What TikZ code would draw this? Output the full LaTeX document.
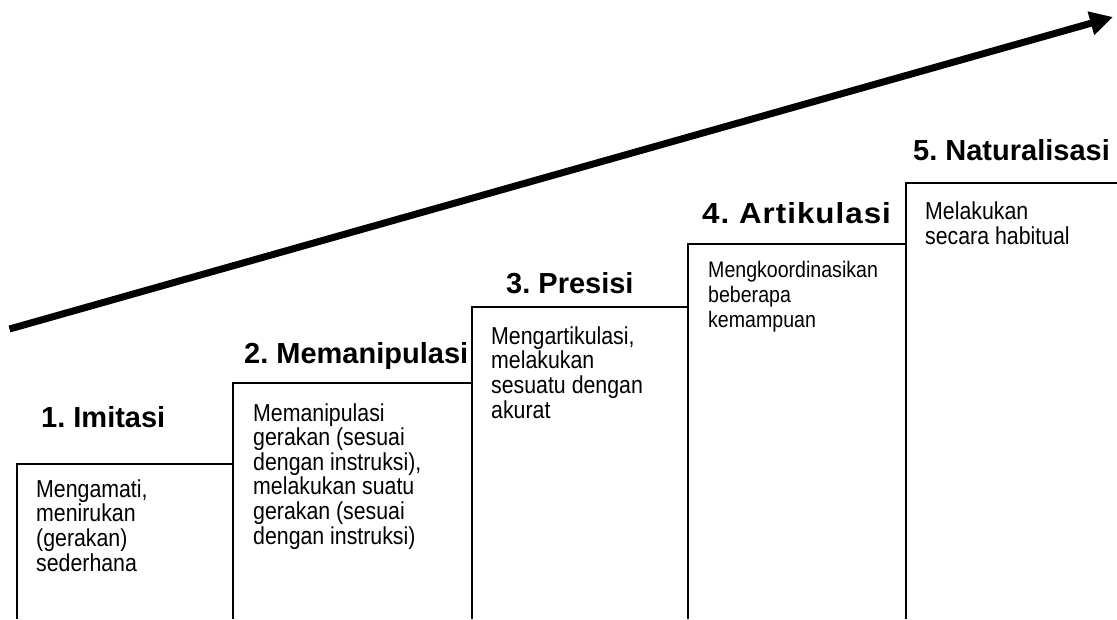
\documentclass[tikz,border=0pt]{standalone}
\usepackage{fontspec}
\setmainfont{Liberation Sans}
\newfontfamily\narrowfont[FakeStretch=0.87]{Liberation Sans}
\newfontfamily\widebold[FakeStretch=1.08, LetterSpace=3.5]{Liberation Sans Bold}
\frenchspacing
\usetikzlibrary{arrows.meta}
\begin{document}
\begin{tikzpicture}[x=1pt, y=-1pt,
  level/.style={font=\bfseries\fontsize{29}{30}\selectfont, anchor=base west, inner sep=0pt},
  levelwide/.style={level, font=\widebold\fontsize{29}{30}\selectfont},
  % multi-line texts: the base anchor sits on the baseline of the last line
  body/.style={font=\narrowfont\fontsize{24.5}{24.6}\selectfont, anchor=base west, inner sep=0pt, align=left},
  bodysmall/.style={body, font=\narrowfont\fontsize{22.5}{25}\selectfont},
  stair/.style={line width=2.4pt},
  trend/.style={line width=7pt, -{Triangle[length=23pt, width=23pt]}}
]
\useasboundingbox (0,0) rectangle (1117,619);

% corners of the five steps (top-left corner and foot of each left edge)
\coordinate (s1top) at (17,464);   \coordinate (s1foot) at (17,619);
\coordinate (s2top) at (233,383);  \coordinate (s2foot) at (233,619);
\coordinate (s3top) at (472,307);  \coordinate (s3foot) at (472,619);
\coordinate (s4top) at (688,244);  \coordinate (s4foot) at (688,619);
\coordinate (s5top) at (906,183);  \coordinate (s5foot) at (906,619);
\coordinate (edge)  at (1117,619);

% staircase outline
\draw[stair] (s1foot) -- (s1top) -- (s2foot |- s1top);
\draw[stair] (s2foot) -- (s2top) -- (s3foot |- s2top);
\draw[stair] (s3foot) -- (s3top) -- (s4foot |- s3top);
\draw[stair] (s4foot) -- (s4top) -- (s5foot |- s4top);
\draw[stair] (s5foot) -- (s5top) -- (edge |- s5top);

% rising trend arrow
\coordinate (tail) at (9.5,329);
\coordinate (tip)  at (1113,17);
\draw[trend] (tail) -- (tip);

% level titles
\node[level] (l1) at (41,427)  {1. Imitasi};
\node[level] (l2) at (244,363) {2. Memanipulasi};
\node[level] (l3) at (506,293) {3. Presisi};
\node[levelwide] (l4) at (702,223) {4. Artikulasi};
\node[level] (l5) at (913,160) {5. Naturalisasi};

% descriptions
\node[body] (d1) at (36,571) {Mengamati,\\menirukan\\(gerakan)\\sederhana};
\node[body] (d2) at (253,544) {Memanipulasi\\gerakan (sesuai\\dengan instruksi),\\melakukan suatu\\gerakan (sesuai\\dengan instruksi)};
\node[body] (d3) at (491,418) {Mengartikulasi,\\melakukan\\sesuatu dengan\\akurat};
\node[bodysmall] (d4) at (708,327) {Mengkoordinasikan\\beberapa\\kemampuan};
\node[body] (d5) at (925,244.5) {Melakukan\\secara habitual};
\end{tikzpicture}
\end{document}
